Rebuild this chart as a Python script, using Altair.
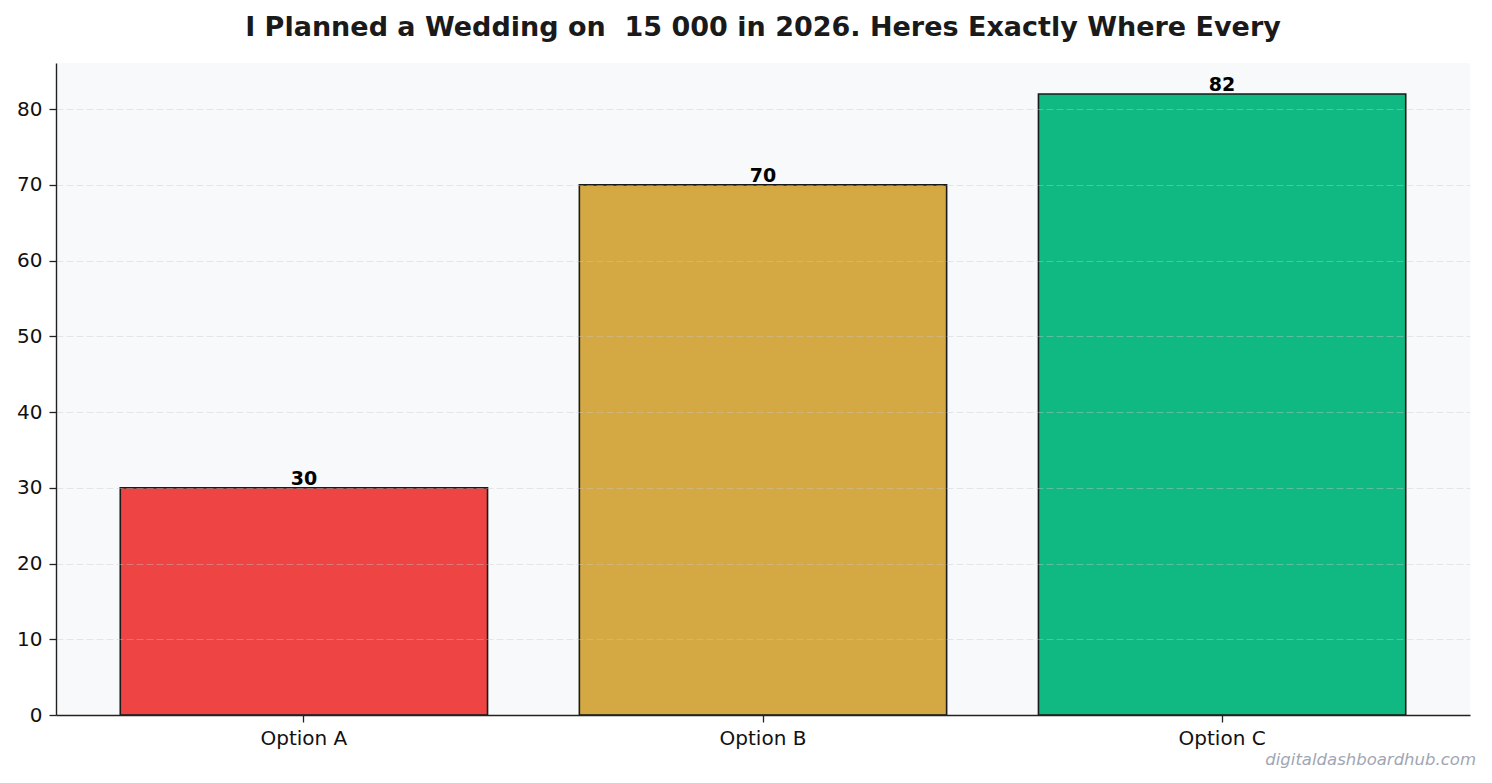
import altair as alt
import pandas as pd

# chart data
options = ["Option A", "Option B", "Option C"]
scores = [30, 70, 82]
bar_colors = ["#ef4444", "#d4a843", "#10b981"]

# keep the double space of the original title (SVG collapses plain spaces)
title_text = "I Planned a Wedding on \u00a015 000 in 2026. Heres Exactly Where Every"
watermark = "digitaldashboardhub.com"

df = pd.DataFrame({"option": options, "score": scores})

x_enc = alt.X(
    "option:N",
    sort=options,
    title=None,
    scale=alt.Scale(paddingInner=0.2, paddingOuter=0.14),
    axis=alt.Axis(labelAngle=0, labelFontSize=20, labelColor="#111111", labelPadding=6,
                  tickSize=7, tickColor="#222222", domainColor="#222222", domainWidth=1.4,
                  tickWidth=1.3, grid=False, zindex=2),
)
y_enc = alt.Y(
    "score:Q",
    title=None,
    scale=alt.Scale(domain=[0, 86.1], nice=False),
    axis=alt.Axis(values=list(range(0, 90, 10)), labelFontSize=20, labelColor="#111111",
                  labelPadding=7, tickSize=7, tickWidth=1.3, tickColor="#222222",
                  domainColor="#222222", domainWidth=1.4, grid=True, gridColor="#c8c8c8",
                  gridDash=[7, 3], gridOpacity=0.4, gridWidth=1.2, zindex=1),
)

bars = alt.Chart(df).mark_bar(stroke="#1a1a1a", strokeWidth=1.6).encode(
    x=x_enc,
    y=y_enc,
    color=alt.Color("option:N", sort=options,
                    scale=alt.Scale(domain=options, range=bar_colors), legend=None),
)

labels = alt.Chart(df).mark_text(
    fontSize=19, fontWeight="bold", color="#000000", baseline="alphabetic", dy=-3
).encode(
    x=alt.X("option:N", sort=options),
    y="score:Q",
    text="score:Q",
)

mark_wm = alt.Chart(pd.DataFrame({"t": [watermark]})).mark_text(
    fontSize=16.5, fontStyle="italic", color="#a0a6b4", align="right", baseline="alphabetic"
).encode(
    x=alt.value(1420),
    y=alt.value(702),
    text="t:N",
)

chart = (
    alt.layer(bars, labels, mark_wm)
    .properties(
        width=1414,
        height=652,
        autosize=alt.AutoSizeParams(type="none"),
        padding={"left": 48, "top": 55, "right": 14, "bottom": 58},
        title=alt.TitleParams(title_text, fontSize=27, fontWeight="bold", color="#1a1a1a",
                              anchor="middle", offset=21),
    )
    .configure(font="DejaVu Sans")
    .configure_view(fill="#f8f9fa", stroke=None)
)

chart.save("out.html", embed_options={"renderer": "svg", "actions": False})
